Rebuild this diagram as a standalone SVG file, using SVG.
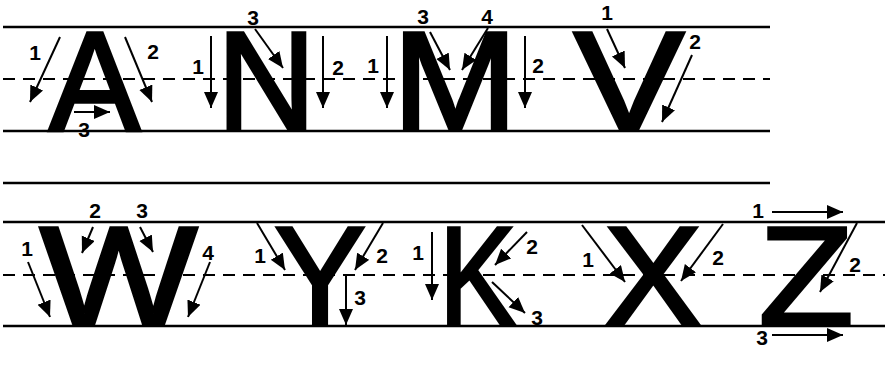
<svg xmlns="http://www.w3.org/2000/svg" width="890" height="377" viewBox="0 0 890 377">
<defs>
<marker id="ah" markerUnits="userSpaceOnUse" markerWidth="18" markerHeight="16" refX="16" refY="7" orient="auto">
<path d="M0,0 L16,7 L0,14 Z" fill="#000"/>
</marker>
<style>
.g{stroke:#000;stroke-width:2.5;fill:none}
.d{stroke:#000;stroke-width:2;stroke-dasharray:12 8;fill:none}
.a{stroke:#000;stroke-width:2;fill:none;marker-end:url(#ah)}
.L{font-family:"Liberation Sans",Arial,sans-serif;font-weight:normal;font-size:141px;text-anchor:middle;fill:#000;stroke:#000;stroke-width:3.5;stroke-linejoin:miter}
.n{font-family:"Liberation Sans",Arial,sans-serif;font-weight:bold;font-size:21px;text-anchor:middle;fill:#000}
</style>
</defs>
<rect width="890" height="377" fill="#fff"/>
<g id="guides">
<line class="g" x1="3" y1="27" x2="770" y2="27"/>
<line class="d" x1="3" y1="79" x2="770" y2="79"/>
<line class="g" x1="3" y1="131" x2="770" y2="131"/>
<line class="g" x1="3" y1="183" x2="770" y2="183"/>
<line class="g" x1="3" y1="222" x2="885" y2="222"/>
<line class="d" x1="3" y1="275" x2="885" y2="275"/>
<line class="g" x1="3" y1="326" x2="885" y2="326"/>
</g>
<g id="letter-A">
<text class="L" transform="translate(94.5,129.5) scale(0.97,1)">A</text>
</g>
<g id="letter-N">
<text class="L" transform="translate(266.5,129.5) scale(0.97,1)">N</text>
</g>
<g id="letter-M">
<text class="L" transform="translate(455,129.5) scale(1.065,1)">M</text>
</g>
<g id="letter-V">
<text class="L" transform="translate(629,129.5) scale(1.17,1)">V</text>
</g>
<g id="letter-W">
<text class="L" transform="translate(118.5,324.5) scale(1.18,1)">W</text>
</g>
<g id="letter-Y">
<text class="L" transform="translate(320,324.5) scale(0.97,1)">Y</text>
</g>
<g id="letter-K">
<text class="L" transform="translate(477.5,324.5) scale(0.82,1)">K</text>
</g>
<g id="letter-X">
<text class="L" transform="translate(653,324.5) scale(1.04,1)">X</text>
</g>
<g id="letter-Z">
<text class="L" transform="translate(806,324.5) scale(1.1,1)">Z</text>
</g>
<g id="connectors">
<line class="a" x1="60" y1="37" x2="30" y2="102"/>
<line class="a" x1="125" y1="37" x2="152" y2="102"/>
<line class="a" x1="74" y1="112" x2="110" y2="112"/>
<line class="a" x1="211" y1="36" x2="211" y2="108"/>
<line class="a" x1="323" y1="36" x2="323" y2="108"/>
<line class="a" x1="255" y1="29" x2="283" y2="68"/>
<line class="a" x1="387" y1="36" x2="387" y2="108"/>
<line class="a" x1="525" y1="36" x2="525" y2="108"/>
<line class="a" x1="430" y1="32" x2="450" y2="70"/>
<line class="a" x1="488" y1="28" x2="462" y2="70"/>
<line class="a" x1="607" y1="29" x2="625" y2="68"/>
<line class="a" x1="692" y1="55" x2="662" y2="122"/>
<line class="a" x1="28" y1="262" x2="50" y2="317"/>
<line class="a" x1="93" y1="227" x2="82" y2="253"/>
<line class="a" x1="140" y1="227" x2="153" y2="252"/>
<line class="a" x1="210" y1="262" x2="188" y2="317"/>
<line class="a" x1="257" y1="223" x2="285" y2="270"/>
<line class="a" x1="383" y1="223" x2="355" y2="270"/>
<line class="a" x1="346" y1="275" x2="346" y2="325"/>
<line class="a" x1="432" y1="232" x2="432" y2="300"/>
<line class="a" x1="527" y1="232" x2="495" y2="265"/>
<line class="a" x1="492" y1="282" x2="525" y2="313"/>
<line class="a" x1="582" y1="225" x2="625" y2="282"/>
<line class="a" x1="723" y1="224" x2="681" y2="281"/>
<line class="a" x1="772" y1="212" x2="843" y2="212"/>
<line class="a" x1="857" y1="223" x2="820" y2="292"/>
<line class="a" x1="772" y1="335" x2="843" y2="335"/>
</g>
<g id="labels">
<text class="n" x="35" y="60">1</text>
<text class="n" x="153" y="59">2</text>
<text class="n" x="84" y="137">3</text>
<text class="n" x="198" y="74">1</text>
<text class="n" x="338" y="75">2</text>
<text class="n" x="253" y="25">3</text>
<text class="n" x="373" y="73">1</text>
<text class="n" x="538" y="73">2</text>
<text class="n" x="423" y="24">3</text>
<text class="n" x="487" y="24">4</text>
<text class="n" x="607" y="20">1</text>
<text class="n" x="695" y="49">2</text>
<text class="n" x="27" y="256">1</text>
<text class="n" x="95" y="218">2</text>
<text class="n" x="142" y="218">3</text>
<text class="n" x="208" y="260">4</text>
<text class="n" x="260" y="263">1</text>
<text class="n" x="382" y="263">2</text>
<text class="n" x="360" y="305">3</text>
<text class="n" x="418" y="260">1</text>
<text class="n" x="532" y="254">2</text>
<text class="n" x="537" y="325">3</text>
<text class="n" x="588" y="267">1</text>
<text class="n" x="718" y="265">2</text>
<text class="n" x="758" y="218">1</text>
<text class="n" x="855" y="272">2</text>
<text class="n" x="762" y="345">3</text>
</g>
</svg>
